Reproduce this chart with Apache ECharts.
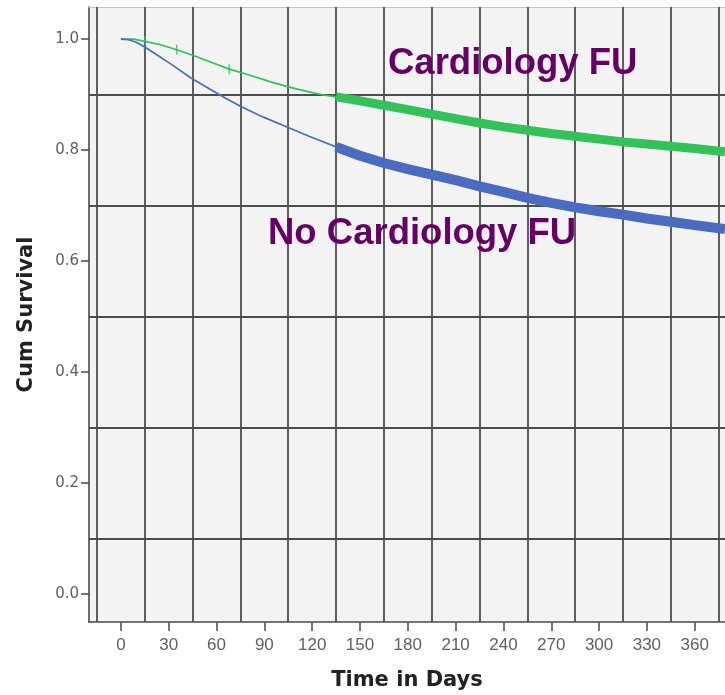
<!DOCTYPE html>
<html>
<head>
<meta charset="utf-8">
<script src="https://cdn.jsdelivr.net/npm/echarts@6/dist/echarts.min.js"></script>
<style>
html,body{margin:0;padding:0;background:#fff;}
#c{width:725px;height:695px;}
</style>
</head>
<body>
<div id="c"></div>
<script>
// ---- data ----
const xTicks = [0, 30, 60, 90, 120, 150, 180, 210, 240, 270, 300, 330, 360];
const yTicks = [0.0, 0.2, 0.4, 0.6, 0.8, 1.0];
const gridX = [-15, 15, 45, 75, 105, 135, 165, 195, 225, 255, 285, 315, 345, 375];
const gridY = [0.1, 0.3, 0.5, 0.7, 0.9];

// Cardiology FU (green) – early sparse part and dense-censoring part
const cardioEarly = [[0,1.0],[8,1.0],[15,0.996],[25,0.990],[35,0.981],[45,0.971],[57,0.958],[68,0.946],[80,0.936],[93,0.924],[105,0.914],[118,0.905],[128,0.899],[135,0.896]];
const cardioLate = [[135,0.896],[150,0.889],[165,0.881],[180,0.873],[195,0.865],[210,0.857],[225,0.849],[240,0.842],[255,0.836],[270,0.830],[285,0.825],[300,0.820],[315,0.815],[330,0.811],[345,0.807],[360,0.803],[379,0.797]];
const cardioCensor = [[15,0.996],[35,0.981],[68,0.946]];

// No Cardiology FU (blue)
const noCardioEarly = [[0,1.0],[5,0.999],[10,0.994],[15,0.986],[22,0.973],[31,0.956],[44,0.930],[56,0.910],[66,0.893],[75,0.879],[89,0.860],[105,0.841],[118,0.825],[128,0.814],[135,0.806]];
const noCardioLate = [[135,0.806],[150,0.790],[165,0.777],[180,0.766],[195,0.756],[210,0.746],[225,0.735],[240,0.725],[255,0.714],[270,0.705],[285,0.697],[300,0.690],[315,0.684],[330,0.677],[345,0.671],[360,0.665],[379,0.658]];
const noCardioCensor = [[15,0.986]];

const GREEN = '#33c15a';
const BLUE = '#4a6bc0';
const PURPLE = '#660066';

const chart = echarts.init(document.getElementById('c'), null, {renderer:'canvas'});
chart.setOption({
  animation: false,
  grid: {left: 89, right: 0, top: 7, bottom: 73, containLabel: false, outerBoundsMode: 'none',
    show: true, backgroundColor: '#f3f3f3', borderWidth: 0},
  xAxis: [{
    type: 'value', min: -20, max: 379, position: 'bottom',
    name: 'Time in Days', nameLocation: 'middle', nameGap: 48,
    nameTextStyle: {fontFamily: 'DejaVu Sans', fontWeight: 'bold', fontSize: 21, color: '#222'},
    axisLine: {show: true, onZero: false, lineStyle: {color: '#4a4a4a', width: 1.6}},
    axisTick: {show: true, length: 9, lineStyle: {color: '#4a4a4a', width: 1.5}, customValues: xTicks},
    axisLabel: {show: true, margin: 15, fontFamily: 'Liberation Sans', fontSize: 17, color: '#5f5f5f', customValues: xTicks},
    splitLine: {show: false}
  }, {
    type: 'value', min: -20, max: 379, position: 'top',
    axisLine: {show: true, onZero: false, lineStyle: {color: '#c4c4c4', width: 1}},
    axisTick: {show: false}, axisLabel: {show: false}, splitLine: {show: false}
  }],
  yAxis: [{
    type: 'value', min: -0.05, max: 1.058,
    name: 'Cum Survival', nameLocation: 'middle', nameGap: 52,
    nameTextStyle: {fontFamily: 'DejaVu Sans', fontWeight: 'bold', fontSize: 21, color: '#222'},
    axisLine: {show: true, onZero: false, lineStyle: {color: '#4a4a4a', width: 1.6}},
    axisTick: {show: true, length: 8, lineStyle: {color: '#4a4a4a', width: 1.5}, customValues: yTicks},
    axisLabel: {show: true, margin: 10, fontFamily: 'DejaVu Sans', fontSize: 15, color: '#5f5f5f', customValues: yTicks,
      formatter: v => Number(v).toFixed(1)},
    splitLine: {show: false}
  }],
  series: [
    {
      type: 'line', name: 'Cardiology FU', data: cardioEarly, showSymbol: false, symbol: 'none', z: 5,
      lineStyle: {color: GREEN, width: 1.7},
      markLine: {
        silent: true, z: 1, symbol: ['none','none'], label: {show: false},
        lineStyle: {color: '#4d4d4d', width: 1.8, type: 'solid'},
        emphasis: {disabled: true},
        data: gridX.map(v => ({xAxis: v})).concat(gridY.map(v => ({yAxis: v})))
      }
    },
    {type: 'line', data: cardioLate, symbol: 'none', z: 5, lineStyle: {color: GREEN, width: 9}},
    {type: 'scatter', data: cardioCensor, symbol: 'rect', symbolSize: [1.6, 10], z: 6, itemStyle: {color: GREEN}},
    {type: 'line', name: 'No Cardiology FU', data: noCardioEarly, symbol: 'none', z: 5, lineStyle: {color: BLUE, width: 1.7}},
    {type: 'line', data: noCardioLate, symbol: 'none', z: 5, lineStyle: {color: BLUE, width: 10}},
    {type: 'scatter', data: noCardioCensor, symbol: 'rect', symbolSize: [2, 10], z: 6, itemStyle: {color: BLUE}}
  ],
  graphic: [
    {type: 'text', left: 388, top: 45, z: 20, style: {text: 'Cardiology FU', fill: PURPLE, font: 'bold 36.5px "Liberation Sans", Arial, sans-serif'}},
    {type: 'text', left: 268, top: 215, z: 20, style: {text: 'No Cardiology FU', fill: PURPLE, font: 'bold 36.5px "Liberation Sans", Arial, sans-serif'}}
  ]
});
</script>
</body>
</html>
